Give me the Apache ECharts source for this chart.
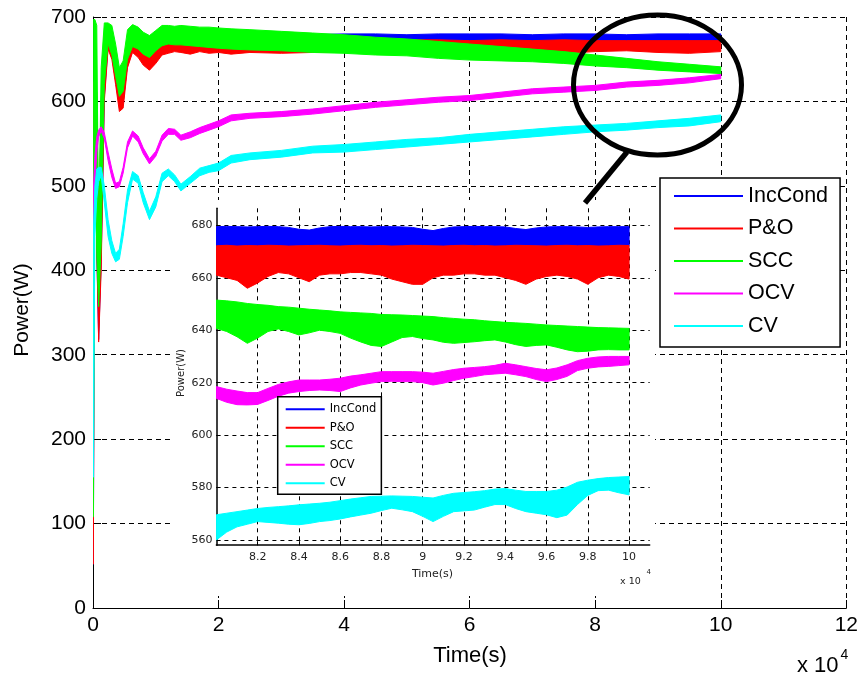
<!DOCTYPE html>
<html>
<head>
<meta charset="utf-8">
<script src="https://cdn.jsdelivr.net/npm/echarts@6/dist/echarts.min.js"></script>
<style>
html, body { margin: 0; padding: 0; background: #fff; }
#chart { width: 861px; height: 679px; }
</style>
</head>
<body>
<div id="chart"></div>
<script>
// MPPT methods and their trace colours
const methodNames = ['IncCond', 'P&O', 'SCC', 'OCV', 'CV'];
const methodColors = ['#0000ff', '#ff0000', '#00ff00', '#ff00ff', '#00ffff'];

// Full run: time in units of 1e4 s, power envelope (lower / upper) in W
const mainTime = [0, 0.005, 0.03, 0.06, 0.09, 0.13, 0.18, 0.24, 0.3, 0.36, 0.42, 0.48, 0.55, 0.63, 0.72, 0.8, 0.9, 1.0, 1.1, 1.2, 1.3, 1.4, 1.55, 1.7, 1.85, 2.0, 2.2, 2.5, 3.0, 3.5, 4.0, 4.5, 5.0, 5.5, 6.0, 6.5, 7.0, 7.5, 8.0, 8.5, 9.0, 9.5, 10.0];

const incCondLo = [52, 52, 595, 420, 318, 410, 605, 665, 655, 625, 595, 598, 645, 662, 656, 648, 645, 652, 662, 666, 668, 668, 669, 670, 670, 671, 671, 672, 671, 672, 672, 671, 672, 672, 671, 672, 672, 671, 672, 672, 671, 672, 672];
const incCondHi = [52, 615, 620, 605, 425, 598, 678, 684, 678, 658, 618, 625, 668, 676, 672, 668, 665, 670, 675, 677, 678, 678, 679, 679, 679, 680, 679, 680, 680, 679, 680, 680, 679, 680, 680, 680, 679, 680, 680, 679, 680, 680, 680];

const poLo = [52, 52, 600, 430, 315, 400, 600, 662, 650, 620, 588, 592, 640, 658, 652, 643, 637, 645, 655, 657, 659, 658, 656, 659, 657, 658, 656, 658, 657, 658, 659, 657, 658, 660, 657, 659, 658, 657, 659, 660, 658, 657, 659];
const poHi = [52, 622, 625, 610, 432, 600, 680, 686, 678, 655, 612, 620, 665, 673, 668, 664, 660, 666, 670, 671, 672, 671, 672, 672, 671, 672, 671, 672, 671, 672, 672, 672, 673, 673, 672, 673, 672, 673, 672, 672, 672, 672, 672];

const sccLo = [108, 108, 600, 420, 357, 430, 620, 668, 655, 630, 606, 612, 650, 665, 662, 656, 652, 660, 666, 668, 667, 667, 666, 665, 664, 663, 662, 661, 660, 658, 657, 655, 654, 651, 649, 648, 647, 645, 642, 640, 637, 635, 633];
const sccHi = [108, 697, 697, 690, 435, 640, 693, 693, 690, 668, 640, 648, 685, 691, 688, 682, 678, 684, 690, 690, 689, 690, 689, 688, 688, 687, 686, 685, 683, 681, 679, 676, 674, 671, 668, 665, 662, 659, 655, 651, 647, 644, 641];

const ocvLo = [436, 436, 500, 540, 558, 565, 556, 530, 510, 497, 499, 515, 545, 559, 552, 538, 526, 535, 553, 561, 561, 554, 557, 562, 566, 570, 577, 580, 582, 585, 589, 593, 596, 599, 601, 605, 609, 611, 613, 617, 619, 622, 627];
const ocvHi = [436, 495, 535, 558, 566, 570, 563, 540, 520, 503, 505, 522, 552, 565, 559, 545, 532, 541, 560, 568, 567, 560, 564, 569, 573, 577, 584, 586, 588, 591, 595, 599, 602, 605, 607, 611, 615, 617, 619, 623, 625, 628, 632];

const cvLo = [155, 155, 440, 485, 505, 512, 480, 440, 420, 410, 413, 440, 480, 508, 503, 480, 460, 475, 505, 512, 505, 494, 503, 512, 516, 518, 527, 531, 534, 539, 540, 543, 546, 549, 552, 555, 558, 561, 564, 566, 569, 571, 576];
const cvHi = [155, 444, 500, 520, 522, 522, 500, 460, 435, 420, 425, 455, 495, 517, 512, 492, 470, 487, 515, 520, 513, 502, 511, 521, 524, 527, 536, 539, 542, 547, 549, 552, 555, 557, 561, 564, 567, 570, 572, 574, 577, 580, 584];

// Close-up of the last 2e4 s
const zoomTime = [8.0, 8.05, 8.1, 8.15, 8.2, 8.25, 8.3, 8.35, 8.4, 8.45, 8.5, 8.55, 8.6, 8.65, 8.7, 8.75, 8.8, 8.85, 8.9, 8.95, 9.0, 9.05, 9.1, 9.15, 9.2, 9.25, 9.3, 9.35, 9.4, 9.45, 9.5, 9.55, 9.6, 9.65, 9.7, 9.75, 9.8, 9.85, 9.9, 9.95, 10.0];

const zIncCondLo = [672, 672.2, 671.8, 672, 672.1, 672, 671.9, 672, 672.2, 671.8, 672, 672.1, 672, 671.9, 672, 672.2, 672, 671.8, 672, 672.1, 672, 671.9, 672, 672.2, 672, 671.8, 672, 672.1, 672, 671.9, 672, 672.2, 672, 671.8, 672, 672.1, 672, 671.9, 672, 672.2, 672];
const zIncCondHi = [679.5, 679.6, 679.5, 679.4, 679.5, 679.6, 679.5, 679.2, 678.5, 678.2, 679, 679.5, 679.6, 679.5, 679.5, 679.4, 679.5, 679.5, 679.4, 679.2, 678.5, 678, 678.8, 679.4, 679.5, 679.6, 679.5, 679.5, 679.4, 678.8, 678.4, 679, 679.4, 679.5, 679.5, 679.4, 679.2, 679.4, 679.5, 679.5, 679.5];

const zPoLo = [661, 660, 659, 656, 658, 660.5, 662, 661.5, 660, 658.5, 661, 661.5, 661.5, 662, 662, 661.5, 661, 659.5, 658.5, 657.5, 657.5, 660, 661, 661, 661.5, 661.5, 661, 661, 660, 659, 657.5, 659.5, 660.5, 661, 660.5, 659.5, 657.5, 660, 661, 660.5, 659.5];
const zPoHi = [672.2, 672.4, 672.1, 672.3, 672.2, 672.4, 672.3, 672.1, 672.2, 672.3, 672.4, 672.2, 672.1, 672.3, 672.4, 672.2, 672.3, 672.1, 672.2, 672.4, 672.3, 672.2, 672.1, 672.3, 672.4, 672.2, 672.3, 672.1, 672.2, 672.4, 672.3, 672.2, 672.1, 672.3, 672.4, 672.2, 672.3, 672.1, 672.2, 672.4, 672.3];

const zSccLo = [640.7, 639.5, 637.5, 635, 637, 639.5, 640.5, 639.5, 638.2, 639, 640, 639.5, 638.8, 637, 635.5, 634.2, 633.8, 635.5, 637.2, 637.6, 636.8, 636.3, 635.4, 635, 635.3, 635.6, 636, 636.3, 635.5, 634.5, 633.8, 634.2, 634.4, 633.5, 632.5, 631.8, 632, 632.5, 632.6, 632.5, 632.5];
const zSccHi = [651.5, 651.2, 650.8, 650.2, 649.8, 649.5, 649, 648.8, 648.4, 648, 647.7, 647.4, 647, 646.8, 646.6, 646.4, 646, 645.9, 645.8, 645.6, 645.4, 645.2, 644.8, 644.5, 644.2, 644, 643.6, 643.3, 643, 642.8, 642.6, 642.3, 642, 641.8, 641.6, 641.4, 641.2, 641, 640.9, 640.8, 640.7];

const zOcvLo = [614, 612.5, 611.6, 611.5, 611.7, 613.2, 614.8, 616, 616.6, 617, 617.2, 617, 616.6, 618, 619.1, 619.8, 620.4, 620.5, 620.4, 620.4, 620, 619.1, 619.8, 620.8, 621.7, 622.3, 623, 623.3, 623.6, 623, 622.3, 621.2, 620.4, 621.2, 622.4, 624.6, 625.5, 626, 626.2, 626.5, 626.8];
const zOcvHi = [618.5, 617.5, 616.8, 616.2, 616.2, 617.8, 619.3, 620.3, 621, 621, 621, 621.3, 621.7, 622.5, 623, 623.6, 624.2, 624.2, 624.2, 624.2, 624, 623.6, 624.3, 625, 625.5, 625.8, 626.1, 626.6, 627.4, 626.8, 626.1, 625.4, 624.9, 625.6, 626.8, 628.4, 629.3, 629.8, 630, 630, 630];

const zCvLo = [560, 563, 565, 566, 567, 566.7, 566.4, 566, 565.8, 566.3, 567, 567.4, 568, 568.8, 569.5, 570.2, 571.2, 572.1, 571.5, 570.8, 569, 567, 569, 570.8, 571.1, 571.4, 572.5, 573.5, 573.5, 572, 570.8, 570.2, 569.6, 568.5, 569.5, 573.5, 577, 578.8, 579, 578, 577.2];
const zCvHi = [569.6, 570.2, 570.8, 571.4, 572, 572.4, 572.7, 573, 573.4, 573.7, 574, 574.4, 575, 575.6, 576.1, 576.6, 576.7, 576.8, 576.7, 576.6, 576.3, 576, 577, 577.8, 578.1, 578.4, 578.8, 579.4, 579.6, 579, 578.5, 578.5, 578.5, 579, 580.2, 582, 582.8, 583.4, 583.8, 584, 584.2];

const mainBands = [[incCondLo, incCondHi], [poLo, poHi], [sccLo, sccHi], [ocvLo, ocvHi], [cvLo, cvHi]];
const zoomBands = [[zIncCondLo, zIncCondHi], [zPoLo, zPoHi], [zSccLo, zSccHi], [zOcvLo, zOcvHi], [zCvLo, zCvHi]];

// A trace that oscillates fast is drawn as the filled area between its envelopes
function bandSeries(name, color, time, lo, hi, axisIndex, z) {
  return {
    type: 'custom',
    name: name,
    xAxisIndex: axisIndex,
    yAxisIndex: axisIndex,
    z: z,
    clip: true,
    silent: true,
    itemStyle: { color: color },
    data: time.map((t, i) => [t, lo[i], hi[i]]),
    encode: { x: 0, y: [1, 2] },
    renderItem: function (params, api) {
      if (params.dataIndex !== 0) return null;
      const upper = time.map((t, i) => api.coord([t, hi[i]]));
      const lower = time.map((t, i) => api.coord([t, lo[i]])).reverse();
      return {
        type: 'polygon',
        shape: { points: upper.concat(lower) },
        style: { fill: color, stroke: color, lineWidth: 1 }
      };
    }
  };
}

const series = [];
methodNames.forEach((n, k) => series.push(bandSeries(n, methodColors[k], mainTime, mainBands[k][0], mainBands[k][1], 0, 2)));
methodNames.forEach((n, k) => series.push(bandSeries(n, methodColors[k], zoomTime, zoomBands[k][0], zoomBands[k][1], 1, 7)));

const legendData = methodNames.map((n, k) => ({ name: n, itemStyle: { color: methodColors[k] } }));

const mainFont = 'Liberation Sans, Arial, sans-serif';
const insetFont = 'DejaVu Sans, sans-serif';
const gridDash = { color: '#000', width: 1, type: [5, 4] };

const option = {
  animation: false,
  backgroundColor: '#fff',
  grid: [
    { left: 93, right: 12, top: 17, bottom: 71 },
    { left: 216.4, right: 211.3, top: 208.3, bottom: 133.8 }
  ],
  xAxis: [
    {
      gridIndex: 0, type: 'value', min: 0, max: 12, interval: 2,
      axisLine: { show: true, onZero: false, lineStyle: { color: '#000', width: 1 } },
      axisTick: { show: true, inside: true, length: 8, lineStyle: { color: '#000' } },
      axisLabel: { color: '#000', fontFamily: mainFont, fontSize: 21, margin: 7 },
      splitLine: { show: true, showMinLine: false, lineStyle: gridDash }
    },
    {
      gridIndex: 1, type: 'value', min: 8.0, max: 10.1, interval: 0.2, z: 6,
      axisLine: { show: true, onZero: false, lineStyle: { color: '#000', width: 1.5 } },
      axisTick: { show: true, inside: true, length: 4, lineStyle: { color: '#000' } },
      axisLabel: {
        color: '#222', fontFamily: insetFont, fontSize: 11, margin: 6,
        showMinLabel: false, showMaxLabel: false,
        formatter: v => String(parseFloat(v.toFixed(2)))
      },
      splitLine: { show: true, showMinLine: false, showMaxLine: false, lineStyle: { color: '#000', width: 1, type: [4, 4] } }
    }
  ],
  yAxis: [
    {
      gridIndex: 0, type: 'value', min: 0, max: 700, interval: 100,
      axisLine: { show: true, onZero: false, lineStyle: { color: '#000', width: 1 } },
      axisTick: { show: true, inside: true, length: 8, lineStyle: { color: '#000' } },
      axisLabel: { color: '#000', fontFamily: mainFont, fontSize: 21, margin: 7 },
      splitLine: { show: true, showMinLine: false, lineStyle: gridDash }
    },
    {
      gridIndex: 1, type: 'value', min: 558, max: 686.5, splitNumber: 6, z: 6,
      axisLine: { show: true, onZero: false, lineStyle: { color: '#000', width: 1.5 } },
      axisTick: { show: true, inside: true, length: 4, lineStyle: { color: '#000' } },
      axisLabel: { color: '#222', fontFamily: insetFont, fontSize: 11, margin: 4, showMinLabel: false, showMaxLabel: false },
      splitLine: { show: true, showMinLine: false, showMaxLine: false, lineStyle: { color: '#000', width: 1, type: [4, 4] } }
    }
  ],
  legend: [
    {
      data: legendData, orient: 'vertical', left: 660, top: 178,
      backgroundColor: '#fff', borderColor: '#000', borderWidth: 1.5,
      padding: [7, 12, 10, 14], itemGap: 10.5, itemWidth: 69, itemHeight: 2, icon: 'rect',
      textStyle: { fontFamily: mainFont, fontSize: 21.5, color: '#000', lineHeight: 22 },
      selectedMode: false, z: 10
    },
    {
      data: legendData, orient: 'vertical', left: 277.7, top: 396.7,
      backgroundColor: '#fff', borderColor: '#000', borderWidth: 1.5,
      padding: [6, 5, 4.5, 8], itemGap: 5.5, itemWidth: 39, itemHeight: 2, icon: 'rect',
      textStyle: { fontFamily: insetFont, fontSize: 11.5, color: '#000', lineHeight: 13 },
      selectedMode: false, z: 8
    }
  ],
  graphic: {
    elements: [
      // backdrop of the close-up panel
      { type: 'rect', silent: true, z: 5, shape: { x: 170, y: 200, width: 485, height: 396 }, style: { fill: '#fff' } },
      // magnifier marking the zoomed window
      { type: 'ellipse', silent: true, z: 9, shape: { cx: 657.5, cy: 85, rx: 84, ry: 70 }, style: { fill: 'none', stroke: '#000', lineWidth: 5 } },
      { type: 'line', silent: true, z: 9, shape: { x1: 627, y1: 152, x2: 585, y2: 203 }, style: { stroke: '#000', lineWidth: 5.5 } },
      // axis titles of the full run
      { type: 'text', silent: true, z: 10, x: 22, y: 310, rotation: Math.PI / 2,
        style: { text: 'Power(W)', fontFamily: mainFont, fontSize: 21, fill: '#000', align: 'center', verticalAlign: 'middle', textAlign: 'center', textVerticalAlign: 'middle' } },
      { type: 'text', silent: true, z: 10, x: 470, y: 656,
        style: { text: 'Time(s)', fontFamily: mainFont, fontSize: 22, fill: '#000', align: 'center', verticalAlign: 'middle', textAlign: 'center', textVerticalAlign: 'middle' } },
      { type: 'text', silent: true, z: 10, x: 797, y: 665.5,
        style: { text: 'x 10', fontFamily: mainFont, fontSize: 22, fill: '#000', align: 'left', verticalAlign: 'middle', textAlign: 'left', textVerticalAlign: 'middle' } },
      { type: 'text', silent: true, z: 10, x: 840.5, y: 655,
        style: { text: '4', fontFamily: mainFont, fontSize: 14, fill: '#000', align: 'left', verticalAlign: 'middle', textAlign: 'left', textVerticalAlign: 'middle' } },
      // axis titles of the close-up
      { type: 'text', silent: true, z: 10, x: 181.5, y: 373, rotation: Math.PI / 2,
        style: { text: 'Power(W)', fontFamily: insetFont, fontSize: 10, fill: '#222', align: 'center', verticalAlign: 'middle', textAlign: 'center', textVerticalAlign: 'middle' } },
      { type: 'text', silent: true, z: 10, x: 432.5, y: 574.3,
        style: { text: 'Time(s)', fontFamily: insetFont, fontSize: 11, fill: '#222', align: 'center', verticalAlign: 'middle', textAlign: 'center', textVerticalAlign: 'middle' } },
      { type: 'text', silent: true, z: 10, x: 620, y: 582,
        style: { text: 'x 10', fontFamily: insetFont, fontSize: 9.5, fill: '#222', align: 'left', verticalAlign: 'middle', textAlign: 'left', textVerticalAlign: 'middle' } },
      { type: 'text', silent: true, z: 10, x: 646.5, y: 572,
        style: { text: '4', fontFamily: insetFont, fontSize: 7, fill: '#222', align: 'left', verticalAlign: 'middle', textAlign: 'left', textVerticalAlign: 'middle' } }
    ]
  },
  series: series
};

const chart = echarts.init(document.getElementById('chart'), null, { renderer: 'canvas' });
chart.setOption(option);
</script>
</body>
</html>
